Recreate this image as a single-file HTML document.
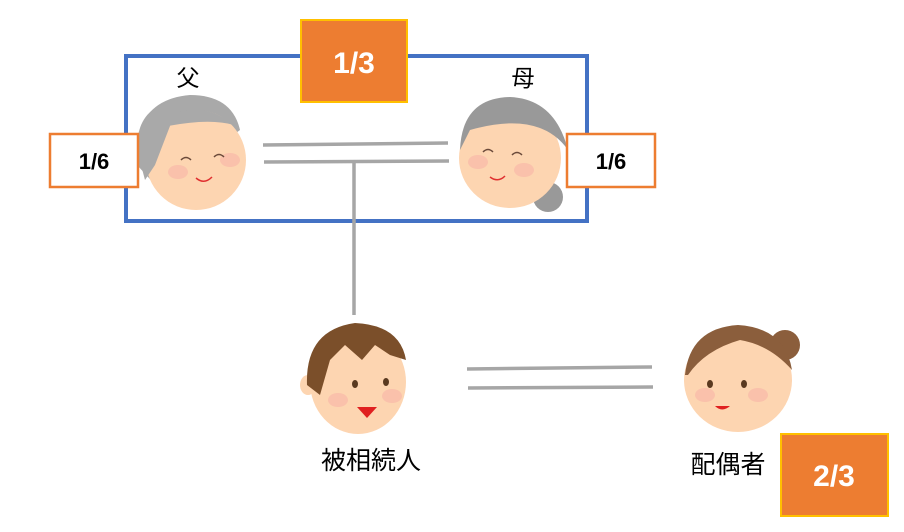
<!DOCTYPE html>
<html><head><meta charset="utf-8"><style>
html,body{margin:0;padding:0;background:#fff;}
svg{display:block}
text{font-family:"Liberation Sans","Noto Sans CJK JP",sans-serif;}
</style></head><body>
<svg width="904" height="532" viewBox="0 0 904 532" xmlns="http://www.w3.org/2000/svg">
<rect x="0" y="0" width="904" height="532" fill="#fff"/>
<rect x="126" y="56" width="461" height="165" fill="none" stroke="#4472C4" stroke-width="4"/>
<g stroke="#A6A6A6" stroke-width="3.5">
<line x1="263" y1="145" x2="448" y2="143"/>
<line x1="264" y1="162" x2="449" y2="161"/>
<line x1="354" y1="162" x2="354" y2="315"/>
<line x1="467" y1="369" x2="652" y2="367"/>
<line x1="468" y1="388" x2="653" y2="387"/>
</g>
<!-- father -->
<g>
<path d="M137 165 Q132 100 190 95 Q232 95 240 130 L160 190 Z" fill="#A9A9A9"/>
<ellipse cx="196" cy="160" rx="50" ry="50" fill="#FDD5B1"/>
<path d="M166 118 Q200 98 234 125 Q210 118 168 126 Z" fill="#A9A9A9"/>
<path d="M137 150 Q136 105 180 100 L155 165 L145 180 Z" fill="#A9A9A9"/>
<ellipse cx="178" cy="172" rx="10" ry="7" fill="#F8B8A8" opacity=".7"/>
<ellipse cx="230" cy="160" rx="10" ry="7" fill="#F8B8A8" opacity=".7"/>
<path d="M181 160 q5 -5 10 0 M214 157 q5 -5 10 0" stroke="#6b4a3a" stroke-width="1.5" fill="none"/>
<path d="M196 178 q8 7 16 -1" stroke="#e03030" stroke-width="1.5" fill="none"/>
</g>
<!-- mother -->
<g>
<circle cx="548" cy="197" r="15" fill="#999"/>
<ellipse cx="510" cy="158" rx="51" ry="50" fill="#FDD5B1"/>
<path d="M460 150 Q462 98 510 97 Q555 99 568 150 Q540 110 470 130 Z" fill="#999"/>
<ellipse cx="478" cy="162" rx="10" ry="7" fill="#F8B8A8" opacity=".7"/>
<ellipse cx="524" cy="170" rx="10" ry="7" fill="#F8B8A8" opacity=".7"/>
<path d="M483 152 q5 -5 10 0 M512 155 q5 -5 10 0" stroke="#6b4a3a" stroke-width="1.5" fill="none"/>
<path d="M490 177 q8 6 15 -1" stroke="#e03030" stroke-width="1.5" fill="none"/>
</g>
<!-- boy -->
<g>
<ellipse cx="308" cy="385" rx="8" ry="10" fill="#FDD5B1"/>
<ellipse cx="358" cy="382" rx="48" ry="52" fill="#FDD5B1"/>
<path d="M307 385 Q305 330 355 323 Q400 325 406 360 L390 355 L375 345 L362 360 L345 345 L330 360 L320 395 Z" fill="#7B4F2A"/>
<ellipse cx="338" cy="400" rx="10" ry="7" fill="#F8B8A8" opacity=".7"/>
<ellipse cx="392" cy="396" rx="10" ry="7" fill="#F8B8A8" opacity=".7"/>
<ellipse cx="355" cy="384" rx="3" ry="4" fill="#5a3a20"/>
<ellipse cx="386" cy="382" rx="3" ry="4" fill="#5a3a20"/>
<path d="M357 407 L377 407 L367 418 Z" fill="#E02020"/>
</g>
<!-- spouse -->
<g>
<circle cx="785" cy="345" r="15" fill="#8B5E3C"/>
<ellipse cx="738" cy="380" rx="54" ry="52" fill="#FDD5B1"/>
<path d="M685 375 Q690 328 738 325 Q785 328 792 370 Q770 345 740 340 Q705 350 688 375 Z" fill="#8B5E3C"/>
<ellipse cx="705" cy="395" rx="10" ry="7" fill="#F8B8A8" opacity=".7"/>
<ellipse cx="758" cy="395" rx="10" ry="7" fill="#F8B8A8" opacity=".7"/>
<ellipse cx="710" cy="384" rx="3" ry="4" fill="#5a3a20"/>
<ellipse cx="744" cy="384" rx="3" ry="4" fill="#5a3a20"/>
<path d="M715 406 Q722 413 730 406 Z" fill="#E02020"/>
</g>
<rect x="301" y="20" width="106" height="82" fill="#ED7D31" stroke="#FFC000" stroke-width="2"/>
<text x="354" y="73" font-size="30" font-weight="bold" fill="#fff" text-anchor="middle">1/3</text>
<rect x="50" y="134" width="88" height="53" fill="#fff" stroke="#ED7D31" stroke-width="2.5"/>
<text x="94" y="169" font-size="22" font-weight="bold" fill="#000" text-anchor="middle">1/6</text>
<rect x="567" y="134" width="88" height="53" fill="#fff" stroke="#ED7D31" stroke-width="2.5"/>
<text x="611" y="169" font-size="22" font-weight="bold" fill="#000" text-anchor="middle">1/6</text>
<rect x="781" y="434" width="107" height="82" fill="#ED7D31" stroke="#FFC000" stroke-width="2"/>
<text x="834" y="486" font-size="30" font-weight="bold" fill="#fff" text-anchor="middle">2/3</text>
<text x="188" y="86" font-size="23" text-anchor="middle">父</text>
<text x="523" y="86" font-size="23" text-anchor="middle">母</text>
<text x="371" y="469" font-size="25" text-anchor="middle">被相続人</text>
<text x="728" y="473" font-size="25" text-anchor="middle">配偶者</text>
</svg>
</body></html>
